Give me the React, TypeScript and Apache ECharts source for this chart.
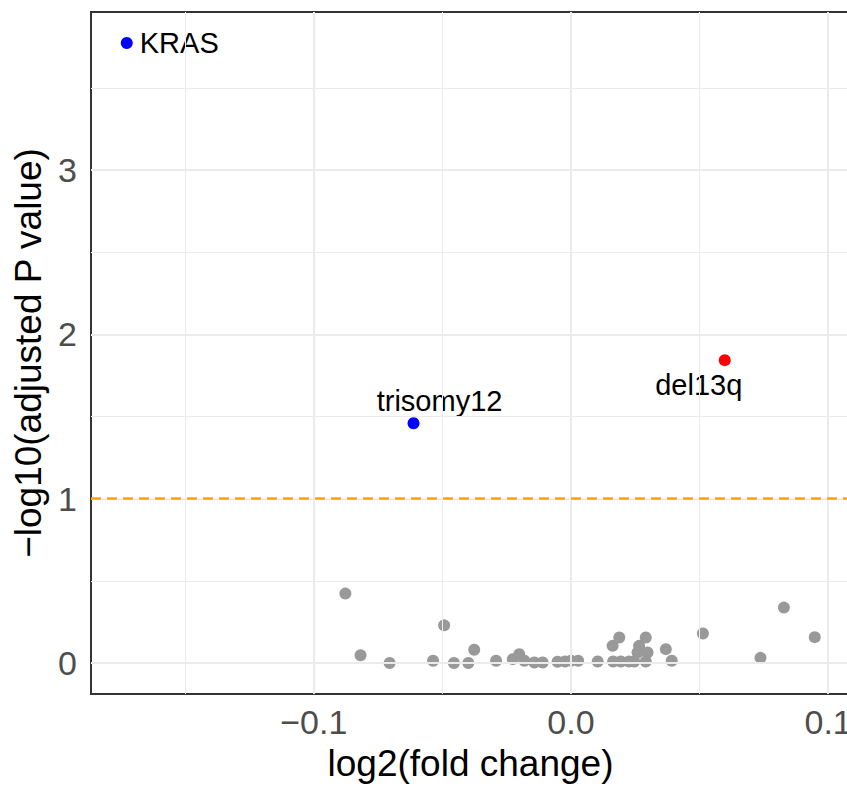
import React, { useEffect, useRef } from "react";
import * as echarts from "echarts";

// Gray (non-significant) features: log2 fold change and -log10 adjusted P
const grayFC = [
  -0.0877, -0.0818, -0.0705, -0.0536, -0.0493, -0.0455, -0.0399, -0.0376,
  -0.0291, -0.0226, -0.0201, -0.0181, -0.0142, -0.011, -0.0052, -0.0023,
  0.0, 0.0028, 0.0104, 0.0164, 0.0162, 0.0188, 0.0194, 0.0226, 0.0246,
  0.0259, 0.0265, 0.0291, 0.0298, 0.0291, 0.0369, 0.0392, 0.0513, 0.0737,
  0.0828, 0.0948,
];
const grayP = [
  0.422, 0.047, 0.0, 0.013, 0.229, 0.0, 0.0, 0.08, 0.013, 0.023, 0.053,
  0.013, 0.003, 0.003, 0.007, 0.009, 0.013, 0.013, 0.009, 0.009, 0.104,
  0.155, 0.009, 0.009, 0.009, 0.064, 0.104, 0.155, 0.064, 0.009, 0.084,
  0.013, 0.179, 0.031, 0.337, 0.157,
];

// Significant, labelled features
const labelNames = ["KRAS", "trisomy12", "del13q"];
const labelFC = [-0.1727, -0.0612, 0.0598];
const labelP = [3.773, 1.459, 1.843];
const labelColors = ["#0000FF", "#0000FF", "#FF0000"];

const threshold = 1;

const xMin = -0.1866;
const xMax = 0.1085;
const yMin = -0.189;
const yMax = 3.962;

const xTicks = [-0.1, 0, 0.1];
const xTickLabels = ["\u22120.1", "0.0", "0.1"];
const xMinor = [-0.15, -0.05, 0.05];
const yTicks = [0, 1, 2, 3];
const yTickLabels = ["0", "1", "2", "3"];
const yMinor = [0.5, 1.5, 2.5, 3.5];

const FONT = "'Liberation Sans', Arial, Helvetica, sans-serif";

function fmt(ticks: number[], labels: string[]) {
  return (v: number) => {
    const i = ticks.findIndex((t) => Math.abs(t - v) < 1e-9);
    return i >= 0 ? labels[i] : "";
  };
}

export default function App() {
  const ref = useRef<HTMLDivElement>(null);

  useEffect(() => {
    if (!ref.current) return;
    const chart = echarts.init(ref.current, null, { renderer: "svg" });

    const labelPos: any[] = [
      { position: "right", distance: 7, offset: [0, 0] },
      { position: "top", distance: 2, offset: [26, 0] },
      { position: "bottom", distance: 4, offset: [-26, 0] },
    ];

    const option: any = {
      animation: false,
      backgroundColor: "#FFFFFF",
      textStyle: { fontFamily: FONT },
      grid: {
        left: 91,
        top: 12,
        width: 759,
        height: 682,
        show: true,
        borderColor: "#333333",
        borderWidth: 2,
        backgroundColor: "transparent",
        containLabel: false,
        outerBoundsMode: "none",
      },
      xAxis: {
        type: "value",
        min: xMin,
        max: xMax,
        name: "log2(fold change)",
        nameLocation: "middle",
        nameGap: 51,
        nameTextStyle: { fontSize: 37, color: "#000000", fontFamily: FONT },
        axisLine: { show: false },
        axisTick: {
          show: true,
          customValues: xTicks,
          length: 7,
          lineStyle: { color: "#333333", width: 2 },
        },
        axisLabel: {
          customValues: xTicks,
          formatter: fmt(xTicks, xTickLabels),
          fontSize: 34,
          color: "#4D4D4D",
          margin: 11,
          fontFamily: FONT,
        },
        splitLine: { show: false },
        minorSplitLine: { show: false },
      },
      yAxis: {
        type: "value",
        min: yMin,
        max: yMax,
        name: "\u2212log10(adjusted P value)",
        nameLocation: "middle",
        nameGap: 42,
        nameRotate: 90,
        nameTextStyle: { fontSize: 37, color: "#000000", fontFamily: FONT },
        axisLine: { show: false },
        axisTick: {
          show: true,
          customValues: yTicks,
          length: 7,
          lineStyle: { color: "#333333", width: 2 },
        },
        axisLabel: {
          customValues: yTicks,
          formatter: fmt(yTicks, yTickLabels),
          fontSize: 34,
          color: "#4D4D4D",
          margin: 14,
          fontFamily: FONT,
        },
        splitLine: { show: false },
        minorSplitLine: { show: false },
      },
      series: [
        {
          name: "grid",
          type: "scatter",
          data: [],
          silent: true,
          z: 1,
          markLine: {
            silent: true,
            symbol: ["none", "none"],
            label: { show: false },
            lineStyle: { color: "#EBEBEB", width: 2, type: "solid" },
            emphasis: { disabled: true },
            data: [
              ...xMinor.map((v) => ({ xAxis: v, lineStyle: { width: 1, color: "#EBEBEB", type: "solid" } })),
              ...yMinor.map((v) => ({ yAxis: v, lineStyle: { width: 1, color: "#EBEBEB", type: "solid" } })),
              ...xTicks.map((v) => ({ xAxis: v })),
              ...yTicks.map((v) => ({ yAxis: v })),
            ],
          },
        },
        {
          name: "threshold",
          type: "scatter",
          data: [],
          silent: true,
          z: 2,
          markLine: {
            silent: true,
            symbol: ["none", "none"],
            label: { show: false },
            emphasis: { disabled: true },
            lineStyle: { color: "#FFA500", width: 2.5, type: [10, 6] },
            data: [{ yAxis: threshold }],
          },
        },
        {
          name: "ns",
          type: "scatter",
          z: 3,
          symbolSize: 12,
          itemStyle: { color: "#999999", opacity: 1 },
          data: grayFC.map((x, i) => [x, grayP[i]]),
        },
        {
          name: "sig",
          type: "scatter",
          z: 4,
          symbolSize: 12,
          itemStyle: { opacity: 1 },
          data: labelNames.map((n, i) => ({
            name: n,
            value: [labelFC[i], labelP[i]],
            itemStyle: { color: labelColors[i], opacity: 1 },
            label: {
              show: true,
              formatter: n,
              fontSize: 29,
              color: "#000000",
              fontFamily: FONT,
              ...labelPos[i],
            },
          })),
        },
      ],
    };

    chart.setOption(option);
    return () => chart.dispose();
  }, []);

  return (
    <div
      ref={ref}
      style={{ position: "fixed", left: 0, top: 0, width: 847, height: 786, background: "#fff" }}
    />
  );
}
